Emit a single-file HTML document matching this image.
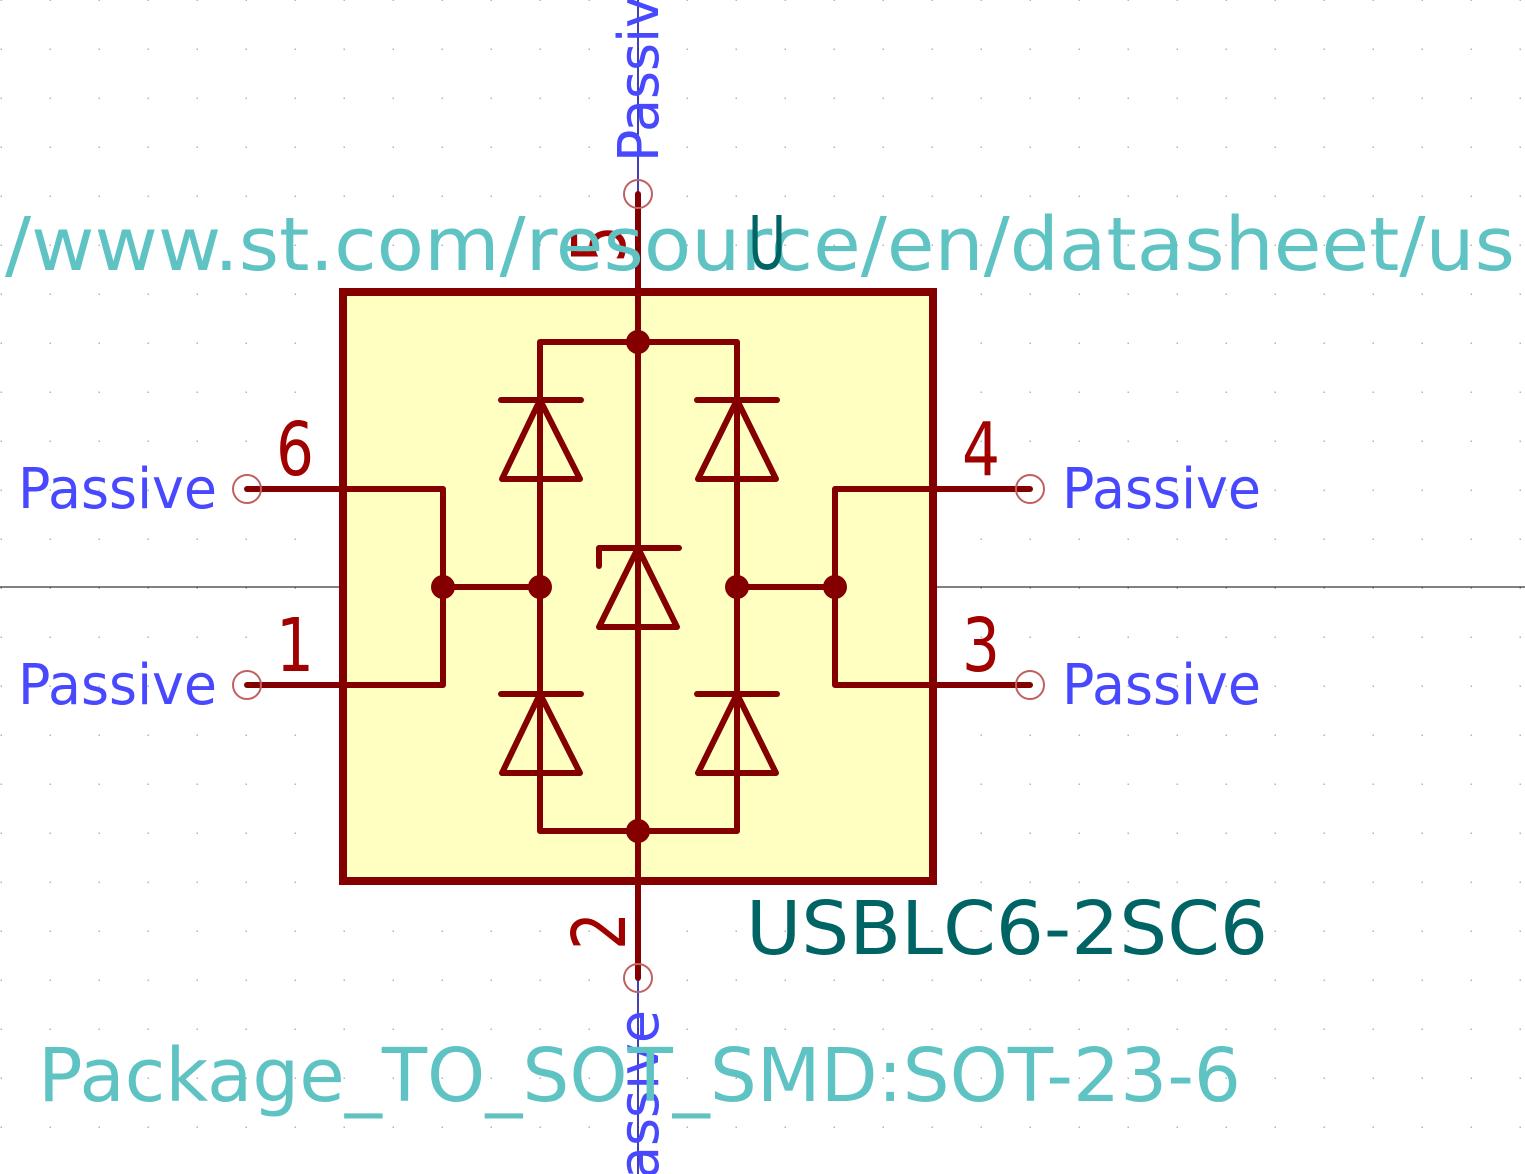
<!DOCTYPE html>
<html><head><style>html,body{margin:0;padding:0;background:#fff}svg{display:block}</style></head>
<body>
<svg width="1525" height="1174" viewBox="0 0 1525 1174" xmlns="http://www.w3.org/2000/svg">
<defs>
<pattern id="g" x="0" y="48" width="49" height="49" patternUnits="userSpaceOnUse">
<rect x="0.5" y="0.5" width="1.5" height="1.5" fill="#b4b4b4"/>
</pattern>
</defs>
<rect width="1525" height="1174" fill="url(#g)"/>
<line x1="0" y1="587" x2="1525" y2="587" stroke="#000" stroke-width="1"/>
<line x1="638" y1="0" x2="638" y2="1174" stroke="#0000a0" stroke-width="1.5"/>
<rect x="343" y="292" width="590" height="589" fill="#ffffc2" stroke="#840000" stroke-width="8"/>
<g stroke="#840000" stroke-width="6" fill="none" stroke-linecap="round" stroke-linejoin="round">
<line x1="247" y1="489" x2="343" y2="489"/>
<line x1="247" y1="685" x2="343" y2="685"/>
<line x1="933" y1="489" x2="1030" y2="489"/>
<line x1="933" y1="685" x2="1030" y2="685"/>
<line x1="638" y1="194" x2="638" y2="292"/>
<line x1="638" y1="881" x2="638" y2="978"/>
<polyline points="343,489 443,489 443,685 343,685"/>
<polyline points="933,489 835,489 835,685 933,685"/>
<line x1="443" y1="587" x2="540" y2="587"/>
<line x1="737" y1="587" x2="835" y2="587"/>
<polyline points="540,587 540,342 737,342 737,831 540,831 540,587"/>
<line x1="638" y1="292" x2="638" y2="881"/>
<line x1="501" y1="400" x2="581" y2="400"/><polygon points="540,400 502,479 580,479"/>
<line x1="697" y1="400" x2="777" y2="400"/><polygon points="737,400 698,479 776,479"/>
<line x1="501" y1="694" x2="581" y2="694"/><polygon points="540,694 502,773 580,773"/>
<line x1="697" y1="694" x2="777" y2="694"/><polygon points="737,694 698,773 776,773"/>
<polyline points="599,566 599,548 679,548"/><polygon points="638,548 599,627 677,627"/>
</g>
<g fill="#840000">
<circle cx="638" cy="342" r="12"/><circle cx="638" cy="831" r="12"/>
<circle cx="443" cy="587" r="12"/><circle cx="540" cy="587" r="12"/>
<circle cx="737" cy="587" r="12"/><circle cx="835" cy="587" r="12"/>
</g>
<g fill="none" stroke="#c06060" stroke-width="2">
<circle cx="247" cy="489" r="14"/><circle cx="247" cy="685" r="14"/>
<circle cx="1030" cy="489" r="14"/><circle cx="1030" cy="685" r="14"/>
<circle cx="638" cy="194" r="14"/><circle cx="638" cy="978" r="14"/>
</g>
<g font-family="'DejaVu Sans','Liberation Sans',sans-serif">
<g fill="#4848ff" font-size="56">
<text x="18" y="508" textLength="199" lengthAdjust="spacingAndGlyphs">Passive</text>
<text x="18" y="704" textLength="199" lengthAdjust="spacingAndGlyphs">Passive</text>
<text x="1062" y="508" textLength="199" lengthAdjust="spacingAndGlyphs">Passive</text>
<text x="1062" y="704" textLength="199" lengthAdjust="spacingAndGlyphs">Passive</text>
<text transform="translate(658,162) rotate(-90)" textLength="199" lengthAdjust="spacingAndGlyphs">Passive</text>
<text transform="translate(658,1209) rotate(-90)" textLength="199" lengthAdjust="spacingAndGlyphs">Passive</text>
</g>
<g fill="#a00000" font-size="74">
<text x="276" y="475" textLength="38" lengthAdjust="spacingAndGlyphs">6</text>
<text x="276" y="671" textLength="38" lengthAdjust="spacingAndGlyphs">1</text>
<text x="962" y="475" textLength="38" lengthAdjust="spacingAndGlyphs">4</text>
<text x="962" y="671" textLength="38" lengthAdjust="spacingAndGlyphs">3</text>
<text transform="translate(625,263) rotate(-90)" textLength="38" lengthAdjust="spacingAndGlyphs">5</text>
<text transform="translate(625,950) rotate(-90)" textLength="38" lengthAdjust="spacingAndGlyphs">2</text>
</g>
<text x="5" y="270" font-size="74" fill="#5fc3c3" textLength="1510" lengthAdjust="spacingAndGlyphs">/www.st.com/resource/en/datasheet/us</text>
<text x="748" y="269" font-size="74" fill="#006464" textLength="38" lengthAdjust="spacingAndGlyphs">U</text>
<text x="746" y="954" font-size="74" fill="#006464" textLength="522" lengthAdjust="spacingAndGlyphs">USBLC6-2SC6</text>
<text x="38" y="1101" font-size="74" fill="#5fc3c3" textLength="1203" lengthAdjust="spacingAndGlyphs">Package_TO_SOT_SMD:SOT-23-6</text>
</g>
</svg>
</body></html>
